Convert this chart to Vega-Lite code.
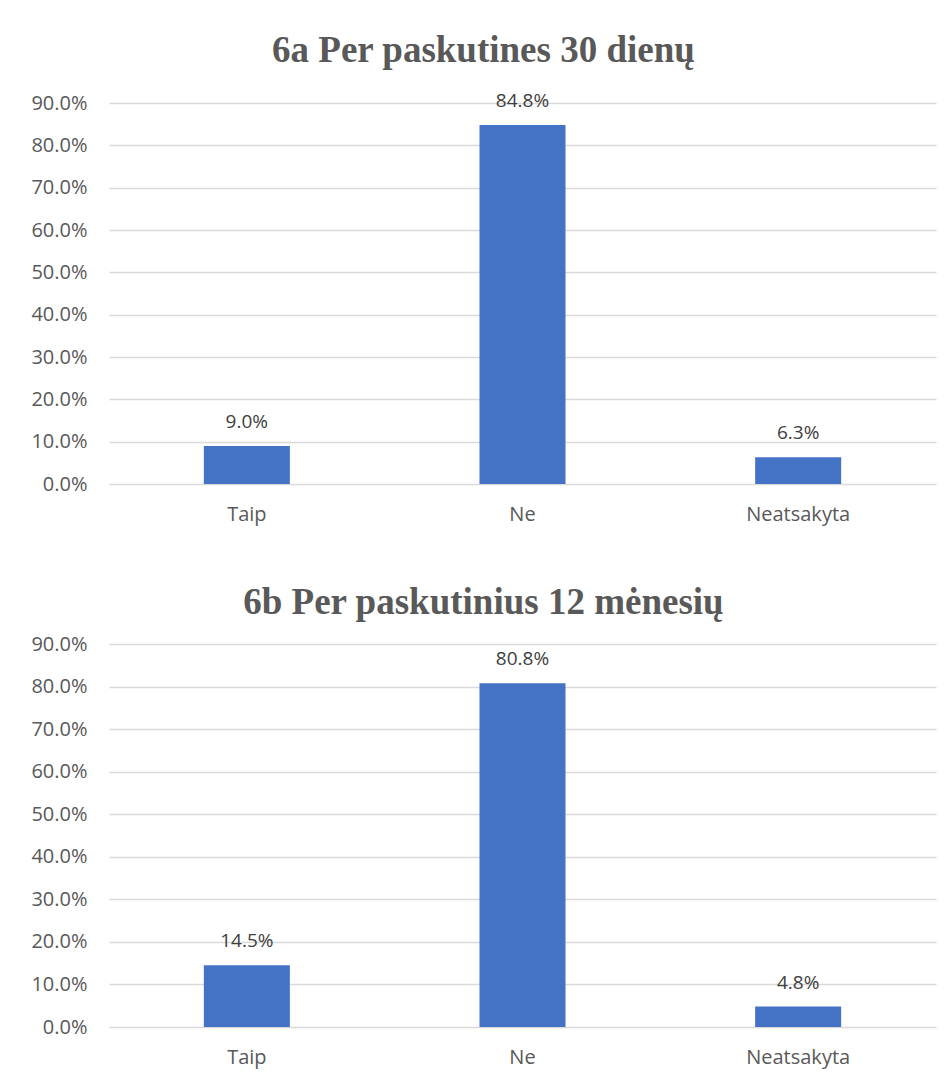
{
  "$schema": "https://vega.github.io/schema/vega-lite/v6.json",
  "background": "white",
  "padding": {"left": 30, "top": 32, "right": 10, "bottom": 5},
  "datasets": {
    "a": [
      {"kategorija": "Taip", "dalis": 0.090},
      {"kategorija": "Ne", "dalis": 0.848},
      {"kategorija": "Neatsakyta", "dalis": 0.063}
    ],
    "b": [
      {"kategorija": "Taip", "dalis": 0.145},
      {"kategorija": "Ne", "dalis": 0.808},
      {"kategorija": "Neatsakyta", "dalis": 0.048}
    ]
  },
  "spacing": 60,
  "vconcat": [
    {
      "data": {"name": "a"},
      "width": 827,
      "height": 381,
      "title": {"text": "6a Per paskutines 30 dienų", "offset": 22},
      "encoding": {
        "x": {"field": "kategorija", "type": "nominal", "sort": null, "title": null,
              "scale": {"paddingInner": 0, "paddingOuter": 0}},
        "y": {"field": "dalis", "type": "quantitative", "title": null,
              "scale": {"domain": [0, 0.9], "nice": false},
              "axis": {"values": [0, 0.1, 0.2, 0.3, 0.4, 0.5, 0.6, 0.7, 0.8, 0.9], "format": ".1%"}}
      },
      "layer": [
        {"mark": {"type": "bar", "color": "#4472c4", "width": {"band": 0.312}}},
        {"mark": {"type": "text", "baseline": "alphabetic", "dy": -18, "font": "Open Sans", "fontSize": 19, "color": "#404040"},
         "encoding": {"text": {"field": "dalis", "type": "quantitative", "format": ".1%"}}}
      ]
    },
    {
      "data": {"name": "b"},
      "width": 827,
      "height": 383,
      "title": {"text": "6b Per paskutinius 12 mėnesių", "offset": 12},
      "encoding": {
        "x": {"field": "kategorija", "type": "nominal", "sort": null, "title": null,
              "scale": {"paddingInner": 0, "paddingOuter": 0}},
        "y": {"field": "dalis", "type": "quantitative", "title": null,
              "scale": {"domain": [0, 0.9], "nice": false},
              "axis": {"values": [0, 0.1, 0.2, 0.3, 0.4, 0.5, 0.6, 0.7, 0.8, 0.9], "format": ".1%"}}
      },
      "layer": [
        {"mark": {"type": "bar", "color": "#4472c4", "width": {"band": 0.312}}},
        {"mark": {"type": "text", "baseline": "alphabetic", "dy": -18, "font": "Open Sans", "fontSize": 19, "color": "#404040"},
         "encoding": {"text": {"field": "dalis", "type": "quantitative", "format": ".1%"}}}
      ]
    }
  ],
  "config": {
    "view": {"stroke": null},
    "title": {"font": "Liberation Serif", "fontSize": 37, "fontWeight": "bold", "color": "#595959", "anchor": "middle", "frame": "bounds"},
    "axisY": {"domain": false, "ticks": false, "labelPadding": 22, "labelFont": "Open Sans", "labelFontSize": 20, "labelColor": "#595959",
              "grid": true, "gridColor": "#d9d9d9", "gridWidth": 1.3},
    "axisX": {"domain": false, "ticks": false, "labelPadding": 20, "labelFont": "Open Sans", "labelFontSize": 20, "labelColor": "#595959", "labelAngle": 0, "grid": false}
  }
}
